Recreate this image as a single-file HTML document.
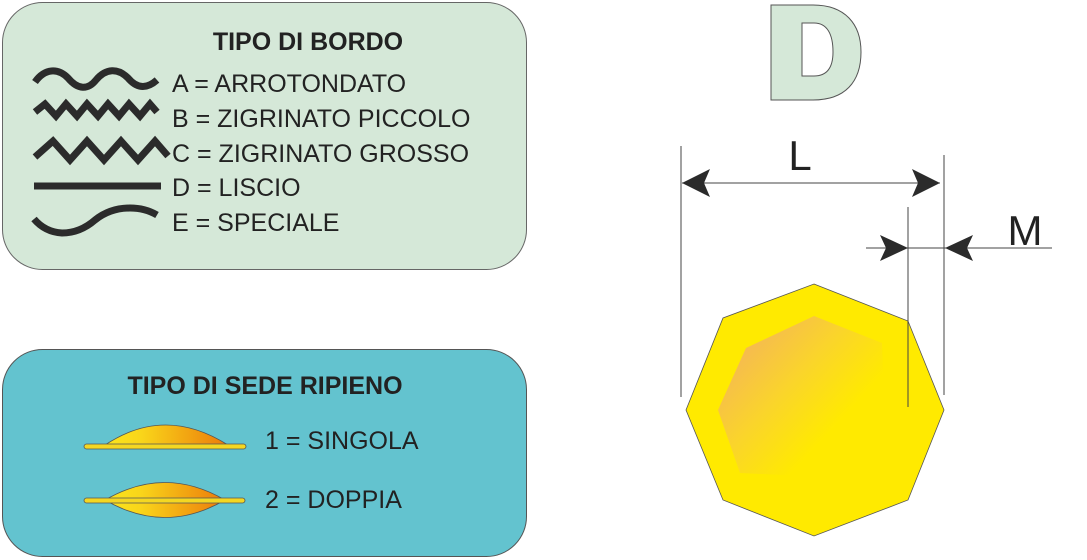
<!DOCTYPE html>
<html><head><meta charset="utf-8"><style>
html,body{margin:0;padding:0;background:#fff;}
svg{display:block;font-family:"Liberation Sans",Arial,sans-serif;}
</style></head><body>
<svg width="1087" height="560" viewBox="0 0 1087 560" xmlns="http://www.w3.org/2000/svg">
<defs>
<linearGradient id="lens" x1="0" y1="0" x2="1" y2="0">
<stop offset="0" stop-color="#fbe51c"/><stop offset="0.3" stop-color="#f9d51a"/><stop offset="1" stop-color="#ec7a0a"/>
</linearGradient>
<linearGradient id="inner" x1="0" y1="0" x2="1" y2="0.9">
<stop offset="0" stop-color="#f2a96a"/><stop offset="0.45" stop-color="#fad52a"/><stop offset="0.72" stop-color="#ffea00"/>
</linearGradient>
</defs>
<rect x="2.5" y="2.5" width="524" height="267" rx="40" fill="#d5e8d8" stroke="#666" stroke-width="1"/>
<text x="308" y="50" font-size="25" font-weight="bold" fill="#222" text-anchor="middle">TIPO DI BORDO</text>
<g font-size="25" fill="#222">
<text x="172" y="92">A = ARROTONDATO</text>
<text x="172" y="127">B = ZIGRINATO PICCOLO</text>
<text x="172" y="162">C = ZIGRINATO GROSSO</text>
<text x="172" y="196">D = LISCIO</text>
<text x="172" y="231">E = SPECIALE</text>
</g>
<g fill="none" stroke="#2b2b2b" stroke-width="7">
<path d="M35,82 C45,68 58,68 68,78 C78,90 88,90 96,80 C106,68 118,68 128,78 C138,90 148,88 157,80"/>
<path d="M35,112 L45,104 L56,116 L66,104 L77,116 L87,104 L98,116 L108,104 L119,116 L129,104 L140,116 L150,104 L157,112"/>
<path d="M35,157 L53,141 L70,160 L87,141 L104,160 L121,141 L138,160 L155,141 L168,156"/>
<path d="M34,186 L161,186"/>
<path d="M34,219 Q45,232 62,233 Q80,233 95,220 Q110,208 130,208 Q145,208 157,215"/>
</g>
<rect x="2.5" y="349.5" width="524" height="207" rx="40" fill="#63c3cf" stroke="#555" stroke-width="1"/>
<text x="265" y="394" font-size="25" font-weight="bold" fill="#222" text-anchor="middle">TIPO DI SEDE RIPIENO</text>
<g font-size="25" fill="#222">
<text x="265" y="449">1 = SINGOLA</text>
<text x="265" y="508">2 = DOPPIA</text>
</g>
<path d="M105,445 Q165,405 228,445 Z" fill="url(#lens)" stroke="#555" stroke-width="0.8"/>
<rect x="84" y="444" width="162" height="5" rx="2.5" fill="#f4d722" stroke="#555" stroke-width="0.8"/>
<path d="M105,500 Q165,465 225,500 Q165,535 105,500 Z" fill="url(#lens)" stroke="#555" stroke-width="0.8"/>
<rect x="84" y="498" width="161" height="5" rx="2.5" fill="#f4d722" stroke="#555" stroke-width="0.8"/>
<path fill-rule="evenodd" d="M771,5 L813,5 C845,5 861,24 861,52 C861,82 845,100 813,100 L771,100 Z M802,23 L814,23 C827,23 833,34 833,52 C833,68 827,76 814,76 L802,76 Z" fill="#d5e8d8" stroke="#555" stroke-width="1"/>
<polygon points="814,284 908,321 944,410 908,500 814,536 723,500 686,410 723,318" fill="#ffea00" stroke="#555" stroke-width="0.8"/>
<polygon points="814,316 882,343 886,480 740,473 718,410 746,348" fill="url(#inner)"/>
<g stroke="#444" stroke-width="1" fill="none">
<line x1="681" y1="146" x2="681" y2="397"/>
<line x1="944" y1="155" x2="944" y2="395"/>
<line x1="908" y1="207" x2="908" y2="407"/>
<line x1="682" y1="183" x2="940" y2="183"/>
<line x1="866" y1="248" x2="1052" y2="248"/>
</g>
<g fill="#2b2b2b">
<path d="M682,183 L710,169 L704,183 L710,197 Z"/>
<path d="M940,183 L912,169 L918,183 L912,197 Z"/>
<path d="M908,248 L880,235 L886,248 L880,261 Z"/>
<path d="M945,248 L973,235 L967,248 L973,261 Z"/>
</g>
<text x="800" y="170" font-size="42" fill="#222" text-anchor="middle">L</text>
<text x="1025" y="245" font-size="42" fill="#222" text-anchor="middle">M</text>
</svg>
</body></html>
